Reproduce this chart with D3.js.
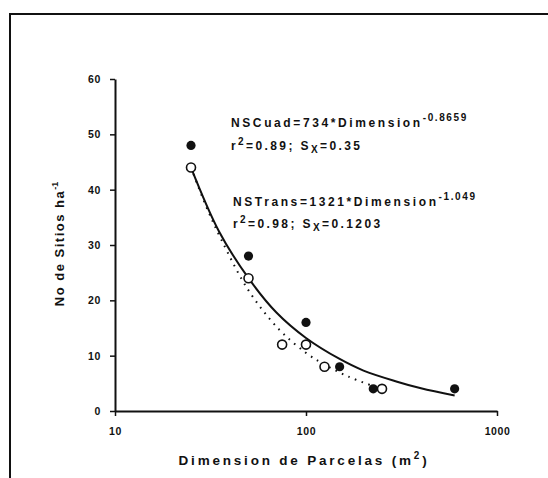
<!DOCTYPE html>
<html>
<head>
<meta charset="utf-8">
<script src="https://cdn.jsdelivr.net/npm/d3@7"></script>
<style>
  body { margin: 0; background: #fff; }
  svg { display: block; }
  text { font-family: "Liberation Sans", Arial, sans-serif; font-weight: bold; fill: #111; }
</style>
</head>
<body>
<script>
// observed points (plot size in m2, sites per ha)
const cuadX = [25, 50, 100, 150, 225, 600];
const cuadY = [48, 28, 16, 8, 4, 4];
const transX = [25, 50, 75, 100, 125, 250];
const transY = [44, 24, 12, 12, 8, 4];

// fitted curves
const cuadFitX = [25, 35, 50, 70, 100, 150, 200, 300, 400, 600];
const cuadFitY = [44, 32.5, 24, 17.8, 13.2, 9.4, 7.3, 5.3, 4.1, 2.8];
const transFitX = [25, 30, 36, 50, 72, 100, 125, 167, 225];
const transFitY = [44, 37, 31, 21.8, 14.8, 10.5, 8.4, 6.2, 4.5];

const xTicks = [10, 100, 1000];
const yTicks = [0, 10, 20, 30, 40, 50, 60];

const width = 548, height = 478;

const svg = d3.select("body").append("svg")
    .attr("width", width)
    .attr("height", height);

// frame lines (top and left)
svg.append("line").attr("x1", 10).attr("y1", 14).attr("x2", width).attr("y2", 14)
    .attr("stroke", "#111").attr("stroke-width", 2);
svg.append("line").attr("x1", 10).attr("y1", 13).attr("x2", 10).attr("y2", height)
    .attr("stroke", "#111").attr("stroke-width", 2);

const x = d3.scaleLog().domain([10, 1000]).range([115, 497]);
const y = d3.scaleLinear().domain([0, 60]).range([411, 79]);

// axes
const xAxis = svg.append("g")
    .attr("transform", `translate(0,${y(0)})`)
    .call(d3.axisBottom(x).tickValues(xTicks).tickFormat(d3.format("d"))
        .tickSize(5).tickSizeOuter(0).tickPadding(12));
const yAxis = svg.append("g")
    .attr("transform", `translate(${x(10)},0)`)
    .call(d3.axisLeft(y).tickValues(yTicks).tickSize(5).tickSizeOuter(0).tickPadding(9));

[xAxis, yAxis].forEach(g => {
    g.select(".domain").attr("stroke", "#111").attr("stroke-width", 2);
    g.selectAll(".tick line").attr("stroke", "#111").attr("stroke-width", 1.5);
    g.selectAll(".tick text")
        .style("font-family", "'Liberation Sans', Arial, sans-serif")
        .style("font-weight", "bold")
        .style("font-size", "10.5px")
        .style("letter-spacing", "0.6px")
        .attr("fill", "#111");
});

// fitted curves
const line = d3.line()
    .x(d => x(d[0]))
    .y(d => y(d[1]))
    .curve(d3.curveCatmullRom);

svg.append("path")
    .datum(cuadFitX.map((v, i) => [v, cuadFitY[i]]))
    .attr("d", line)
    .attr("fill", "none")
    .attr("stroke", "#111")
    .attr("stroke-width", 2);

svg.append("path")
    .datum(transFitX.map((v, i) => [v, transFitY[i]]))
    .attr("d", line)
    .attr("fill", "none")
    .attr("stroke", "#111")
    .attr("stroke-width", 2)
    .attr("stroke-dasharray", "1.6,5.5");

// open circles (transects)
svg.selectAll(".trans")
    .data(transX.map((v, i) => [v, transY[i]]))
    .enter().append("circle")
    .attr("class", "trans")
    .attr("cx", d => x(d[0]))
    .attr("cy", d => y(d[1]))
    .attr("r", 4.5)
    .attr("fill", "#fff")
    .attr("stroke", "#111")
    .attr("stroke-width", 1.6);

// filled circles (quadrats)
svg.selectAll(".cuad")
    .data(cuadX.map((v, i) => [v, cuadY[i]]))
    .enter().append("circle")
    .attr("class", "cuad")
    .attr("cx", d => x(d[0]))
    .attr("cy", d => y(d[1]))
    .attr("r", 4.6)
    .attr("fill", "#111");

// equation annotations
function equation(xPos, yPos, main, sup) {
    const t = svg.append("text")
        .attr("x", xPos).attr("y", yPos)
        .style("font-size", "12px")
        .style("letter-spacing", "2.6px");
    t.append("tspan").text(main);
    t.append("tspan").attr("dy", -6).style("font-size", "10px").style("letter-spacing", "1.6px").text(sup);
}
function stats(xPos, yPos, r2, sx) {
    const t = svg.append("text")
        .attr("x", xPos).attr("y", yPos)
        .style("font-size", "12px")
        .style("letter-spacing", "2.4px");
    t.append("tspan").text("r");
    t.append("tspan").attr("dy", -5).style("font-size", "10px").text("2");
    t.append("tspan").attr("dy", 5).text("=" + r2 + "; S");
    t.append("tspan").attr("dy", 3).style("font-size", "10px").text("X");
    t.append("tspan").attr("dy", -3).text("=" + sx);
}

equation(231, 127, "NSCuad=734*Dimension", "-0.8659");
stats(231, 150, "0.89", "0.35");
equation(233, 206, "NSTrans=1321*Dimension", "-1.049");
stats(233, 228, "0.98", "0.1203");

// axis titles
const xt = svg.append("text")
    .attr("x", 304).attr("y", 465)
    .attr("text-anchor", "middle")
    .style("font-size", "13.5px")
    .style("letter-spacing", "2.8px");
xt.append("tspan").text("Dimension de Parcelas (m");
xt.append("tspan").attr("dy", -6).style("font-size", "10px").text("2");
xt.append("tspan").attr("dy", 6).text(")");

const yt = svg.append("text")
    .attr("transform", "translate(64,244) rotate(-90)")
    .attr("text-anchor", "middle")
    .style("font-size", "13px")
    .style("letter-spacing", "1.5px");
yt.append("tspan").text("No de Sitios ha");
yt.append("tspan").attr("dy", -6).style("font-size", "9px").style("letter-spacing", "0px").text("-1");
</script>
</body>
</html>
